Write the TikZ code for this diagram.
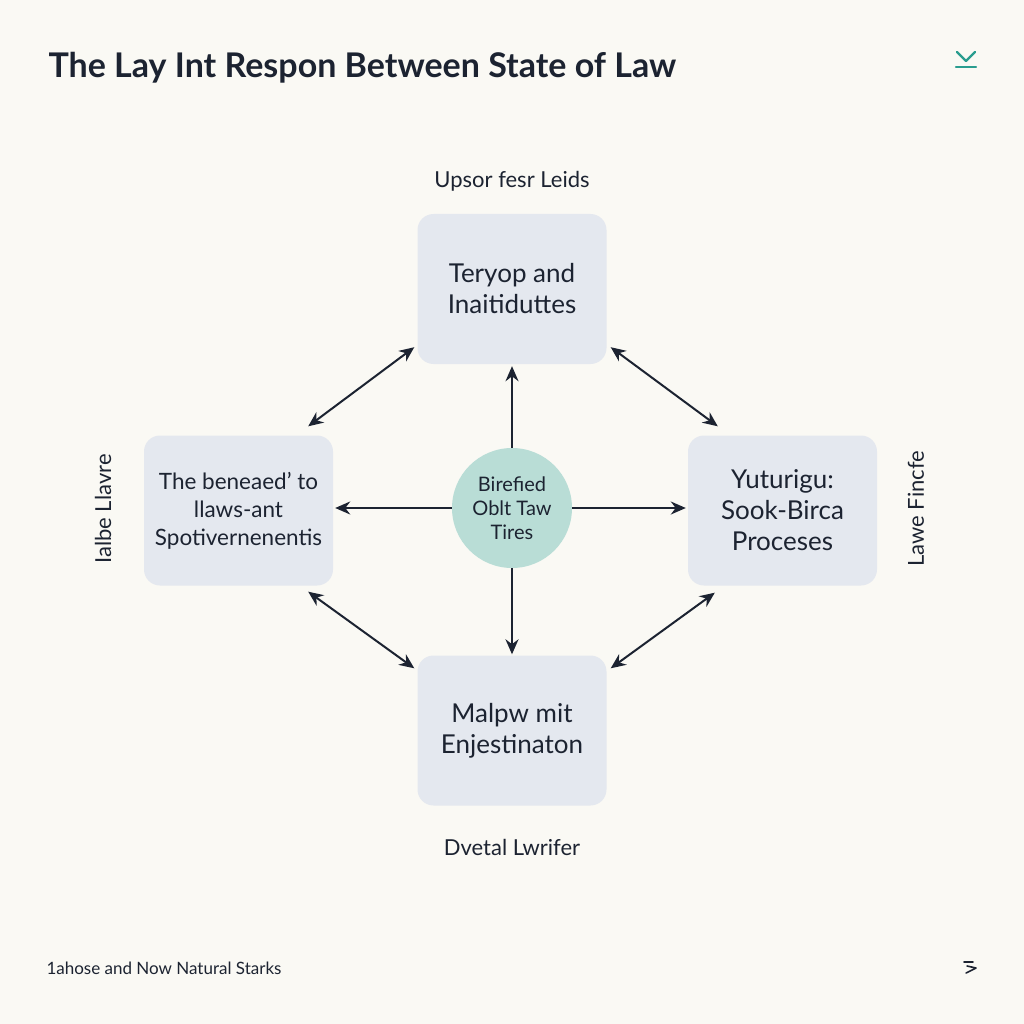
\documentclass[tikz,border=0pt]{standalone}
\usepackage{fontspec}
\setmainfont{Lato}
\usetikzlibrary{arrows.meta}
\definecolor{paper}{HTML}{FAF9F4}
\definecolor{ink}{HTML}{1C2331}
\definecolor{boxgray}{HTML}{E4E8EF}
\definecolor{mint}{HTML}{B9DDD6}
\definecolor{teal}{HTML}{2A9D8F}
\tikzset{
  topic/.style={fill=boxgray,rounded corners=16pt,minimum width=189pt,minimum height=150pt,
    inner sep=2pt,align=center,text=ink,font=\fontsize{26}{31}\selectfont},
  hub/.style={circle,fill=mint,minimum size=120pt,inner sep=0pt,align=center,text=ink,
    font=\fontsize{20}{24}\selectfont},
  tag/.style={text=ink,font=\fontsize{22}{26}\selectfont},
  link/.style={ink,line width=2pt,-{Stealth[length=15pt,width=13pt]}},
  twolink/.style={link,{Stealth[length=15pt,width=13pt]}-{Stealth[length=15pt,width=13pt]}}
}
\begin{document}
\begin{tikzpicture}[x=1pt,y=-1pt]
  \fill[paper] (0,0) rectangle (1024,1024);
  \node[anchor=base west,text=ink,font=\bfseries\fontsize{34}{40}\selectfont] (title) at (45,78) {The Lay Int Respon Between State of Law};
  % teal icon top right
  \draw[teal,line width=2.4pt,line cap=round,line join=round] (957,52)--(966,61)--(975,52);
  \draw[teal,line width=2.4pt,line cap=round] (956,67)--(976,67);

  \node[topic] (top) at (512,289) {Teryop and\\Inaitiduttes};
  \node[topic,font=\fontsize{22.5}{28}\selectfont] (lft) at (238.5,510.5) {The beneaed' to\\llaws-ant\\Spotivernenentis};
  \node[topic] (rgt) at (782.5,510.5) {Yuturigu:\\Sook-Birca\\Proceses};
  \node[topic] (bot) at (512,730.5) {Malpw mit\\Enjestinaton};
  \node[hub] (mid) at (512,508) {Birefied\\Oblt Taw\\Tires};

  \node[tag] (toptag) at (512,181) {Upsor fesr Leids};
  \node[tag] (bottag) at (512,847) {Dvetal Lwrifer};
  \node[tag,rotate=90] (lfttag) at (103,509) {Ialbe Llavre};
  \node[tag,rotate=90] (rgttag) at (916,509) {Lawe Fincfe};

  % straight arrows out of the hub
  \draw[link] (mid.north) -- ([yshift=-2pt]top.south);
  \draw[link] (mid.south) -- ([yshift=1pt]bot.north);
  \draw[link] (mid.west) -- ([xshift=2pt]mid.west -| lft.east);
  \draw[link] (mid.east) -- ([xshift=-2pt]mid.east -| rgt.west);

  % diagonal arrows between the boxes
  \coordinate (a1) at ([xshift=-25pt,yshift=9pt]lft.north east);
  \coordinate (a2) at ([xshift=-3pt,yshift=17pt]top.south west);
  \coordinate (b1) at ([xshift=4pt,yshift=17pt]top.south east);
  \coordinate (b2) at ([xshift=30pt,yshift=9pt]rgt.north west);
  \coordinate (c1) at ([xshift=-25pt,yshift=-6pt]lft.south east);
  \coordinate (c2) at ([xshift=-3pt,yshift=-13pt]bot.north west);
  \coordinate (d1) at ([xshift=27pt,yshift=-7pt]rgt.south west);
  \coordinate (d2) at ([xshift=4pt,yshift=-13pt]bot.north east);
  \draw[twolink] (a1) -- (a2);
  \draw[twolink] (b1) -- (b2);
  \draw[twolink] (c1) -- (c2);
  \draw[twolink] (d1) -- (d2);

  \node[anchor=base west,text=ink,font=\fontsize{17}{20}\selectfont] (foot) at (43,974) {1ahose and Now Natural Starks};
  % small mark bottom right
  \draw[ink,line width=1.6pt,line cap=round,line join=round] (964,962)--(973,962) (967,966)--(976,968)--(966,973);
\end{tikzpicture}
\end{document}
